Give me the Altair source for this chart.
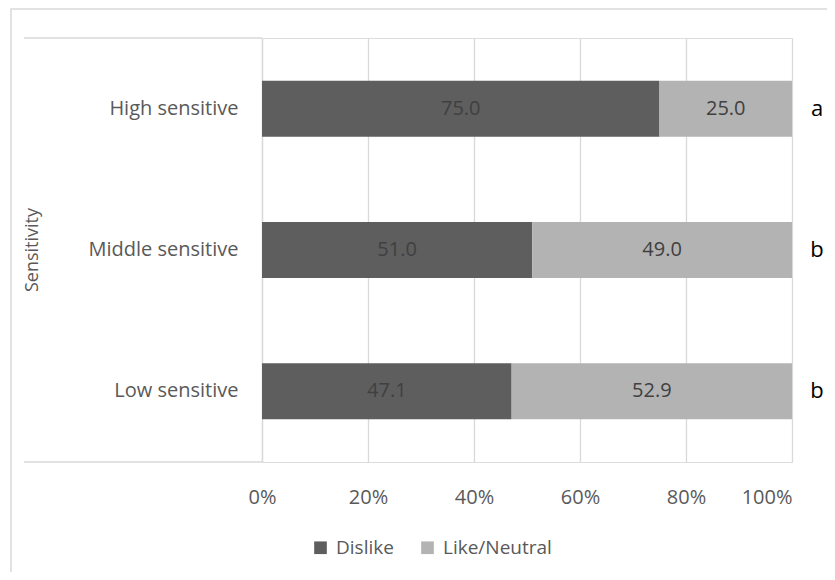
import altair as alt
import pandas as pd

categories = ["High sensitive", "Middle sensitive", "Low sensitive"]
dislike = [75.0, 51.0, 47.1]
like_neutral = [25.0, 49.0, 52.9]
letters = ["a", "b", "b"]
series = ["Dislike", "Like/Neutral"]
colors = ["#5e5e5e", "#b3b3b3"]
x_ticks = [0, 20, 40, 60, 80, 100]

rows = []
for c, d, l in zip(categories, dislike, like_neutral):
    rows.append({"cat": c, "series": series[0], "start": 0.0, "end": d, "val": d, "ord": 0})
    rows.append({"cat": c, "series": series[1], "start": d, "end": d + l, "val": l, "ord": 1})
df = pd.DataFrame(rows)
df["mid"] = (df["start"] + df["end"]) / 2
df["label"] = df["val"].map(lambda v: f"{v:.1f}")

letters_df = pd.DataFrame({"cat": categories, "letter": letters})
one = pd.DataFrame({"k": [0]})

FONT = "Open Sans"
GRID = "#d9d9d9"
W, H = 530, 424

yenc = alt.Y("cat:N", sort=categories,
             scale=alt.Scale(paddingInner=0.6, paddingOuter=0.3),
             axis=alt.Axis(title=None, labelFontSize=20, labelColor="#595959",
                           labelFont=FONT, labelPadding=24, ticks=False,
                           domainColor=GRID, domainWidth=1.3, grid=False))

bars = alt.Chart(df).mark_bar(size=56).encode(
    x=alt.X("start:Q", scale=alt.Scale(domain=[0, 100], nice=False),
            axis=alt.Axis(title=None, values=x_ticks, labelExpr="datum.value + '%'",
                          labelFontSize=20, labelColor="#595959", labelFont=FONT,
                          labelPadding=25, ticks=False, domain=False, labelFlush=False,
                          labelAlign=alt.ExprRef("datum.value == 100 ? 'right' : 'center'"),
                          grid=True, gridColor=GRID, gridWidth=1.3)),
    x2="end:Q",
    y=yenc,
    color=alt.Color("series:N", sort=series,
                    scale=alt.Scale(domain=series, range=colors),
                    legend=alt.Legend(title=None, orient="none", direction="horizontal",
                                      legendX=49, legendY=500, symbolType="square",
                                      symbolSize=160, symbolStrokeWidth=0,
                                      labelFontSize=19, labelFont=FONT,
                                      labelColor="#595959", columnPadding=24,
                                      labelOffset=6)),
    order=alt.Order("ord:Q"),
)

labels = alt.Chart(df).mark_text(fontSize=20, font=FONT, color="#404040").encode(
    x=alt.X("mid:Q"),
    y=alt.Y("cat:N", sort=categories),
    text="label:N",
)

letter_marks = alt.Chart(letters_df).mark_text(fontSize=22, font=FONT, color="#000000",
                                                align="center").encode(
    x=alt.value(555),
    y=alt.Y("cat:N", sort=categories),
    text="letter:N",
)

frame = alt.Chart(one).mark_rect(fill=None, stroke=GRID, strokeWidth=1.5, clip=False).encode(
    x=alt.value(-251), x2=alt.value(700), y=alt.value(-29), y2=alt.value(700)
)
top_line = alt.Chart(one).mark_rule(color=GRID, strokeWidth=1.5).encode(
    x=alt.value(-238), x2=alt.value(0), y=alt.value(0)
)
bottom_line = alt.Chart(one).mark_rule(color=GRID, strokeWidth=1.5).encode(
    x=alt.value(-238), x2=alt.value(0), y=alt.value(H)
)
title = alt.Chart(one).mark_text(text="Sensitivity", angle=270, fontSize=18, font=FONT,
                                 color="#595959").encode(
    x=alt.value(-229), y=alt.value(H / 2)
)

chart = alt.layer(frame, top_line, bottom_line, bars, labels, letter_marks, title).properties(
    width=W, height=H,
    autosize=alt.AutoSizeParams(type="none"),
    padding={"left": 254, "top": 30, "right": 35, "bottom": 110},
).configure_view(stroke=None).configure(background="white")

chart.save("out.html", embed_options={"renderer": "svg", "actions": False})
